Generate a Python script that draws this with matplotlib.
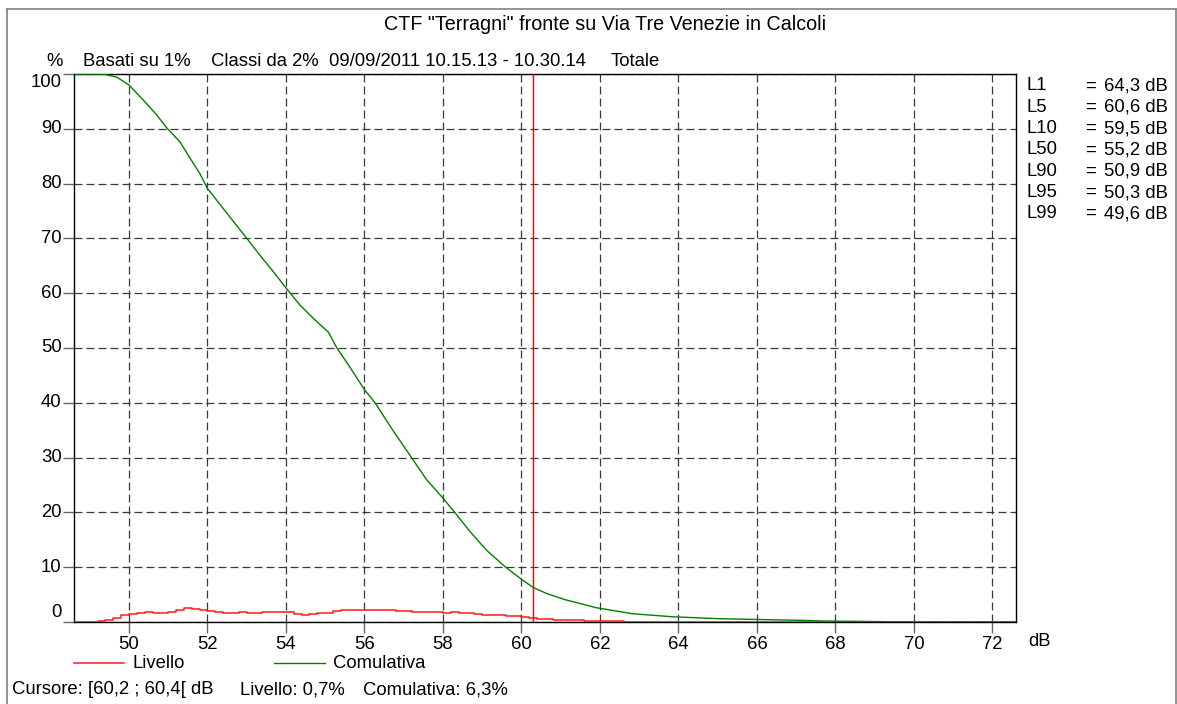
import matplotlib
matplotlib.use("Agg")
import matplotlib.pyplot as plt
from matplotlib.lines import Line2D
import numpy as np

plt.rcParams['font.family'] = ['Liberation Sans', 'DejaVu Sans']
FS = 13.3

# cumulative curve (dB, % of time level exceeded)
cum_db = [48.6, 49.35, 49.7, 50.0, 50.37, 50.71, 50.96, 51.3, 51.56, 51.81, 52.0, 52.32,
          52.66, 52.96, 53.34, 53.68, 54.02, 54.36, 54.7, 55.08, 55.29, 55.63, 56.0, 56.27,
          56.74, 57.2, 57.58, 58.0, 58.3, 58.69, 59.11, 59.58, 60.0, 60.3, 60.64, 61.1,
          61.91, 62.84, 63.86, 64.97, 65.8, 67.1, 67.7, 68.8, 70.0, 72.6]
cum_pct = [100, 100, 99.4, 98.0, 95.2, 92.5, 90.2, 87.6, 84.6, 81.8, 79.1, 76.2,
           73.1, 70.4, 66.9, 63.9, 60.8, 57.8, 55.4, 52.9, 50.1, 46.5, 42.4, 40.0,
           34.8, 30.0, 26.0, 22.6, 20.0, 16.5, 13.1, 10.1, 7.8, 6.3, 5.2, 4.1,
           2.6, 1.5, 0.95, 0.62, 0.49, 0.31, 0.18, 0.1, 0.0, 0.0]

# level distribution, 0.2 dB classes starting at 48.6 dB
class_start = 48.6
class_width = 0.2
livello = [0, 0, 0.03, 0.12, 0.3, 0.73, 1.22, 1.5, 1.7, 1.77,
           1.68, 1.65, 1.83, 2.14, 2.56, 2.38, 2.2, 2.0, 1.77, 1.65,
           1.65, 1.83, 1.7, 1.7, 1.77, 1.77, 1.9, 1.77, 1.4, 1.22,
           1.4, 1.6, 1.7, 2.07, 2.14, 2.14, 2.14, 2.14, 2.2, 2.2,
           2.2, 1.95, 1.95, 1.9, 1.9, 1.77, 1.77, 1.6, 1.77, 1.6,
           1.6, 1.47, 1.34, 1.22, 1.22, 1.15, 1.05, 0.92, 0.7, 0.62,
           0.5, 0.44, 0.4, 0.35, 0.3, 0.22, 0.18, 0.15, 0.12, 0.1,
           0.08, 0.06, 0.05, 0.05, 0.04, 0.04, 0.03]

cursor_db = 60.3
stats_names = ["L1", "L5", "L10", "L50", "L90", "L95", "L99"]
stats_vals = ["64,3", "60,6", "59,5", "55,2", "50,9", "50,3", "49,6"]

xticks = list(range(50, 73, 2))
yticks = list(range(0, 101, 10))

W, H = 1177, 704
fig = plt.figure(figsize=(W / 100, H / 100), dpi=100)
ax = fig.add_axes([74 / W, 1 - 622 / H, (1016 - 74) / W, (622 - 74) / H])

edges = class_start + class_width * np.arange(len(livello) + 1)
lv_x = np.concatenate([edges, [72.6]])
lv_y = np.concatenate([livello, [0, 0]])
ax.plot(lv_x, lv_y, drawstyle='steps-post', color='#ff1a1a', lw=1.1, zorder=3)
ax.plot(cum_db, cum_pct, color='#008000', lw=1.0, zorder=3)
ax.axvline(cursor_db, color='#ff0000', lw=1.0, zorder=4)

ax.set_xlim(48.6, 72.6)
ax.set_ylim(0, 100)
ax.set_xticks(xticks)
ax.set_yticks(yticks)
ax.set_yticklabels([])
ax.tick_params(axis='x', labelsize=FS, length=8, width=1, color='#666666', pad=2)
ax.tick_params(axis='y', length=8, width=1, color='#666666')
ax.grid(True, linestyle=(0, (6.4, 3.2)), color='#3a3a3a', lw=0.9)
for s in ax.spines.values():
    s.set_linewidth(1.0)
    s.set_color('black')

for v in yticks:
    dy = 0
    if v == 100:
        dy = -6
    elif v == 0:
        dy = 7
    ax.annotate(str(v), xy=(0, v), xycoords=('axes fraction', 'data'),
                xytext=(-9, dy), textcoords='offset points',
                ha='right', va='center', fontsize=FS)

ax.annotate("dB", xy=(1, 0), xycoords='axes fraction', xytext=(17, -14),
            textcoords='offset points', ha='center', va='center', fontsize=FS)

# header texts
fig.text(605 / W, 1 - 24 / H, 'CTF "Terragni" fronte su Via Tre Venezie in Calcoli',
         ha='center', va='center', fontsize=14.2)
fig.text(55 / W, 1 - 62 / H, "%", ha='center', va='center', fontsize=FS)
fig.text(83 / W, 1 - 62 / H, "Basati su 1%", ha='left', va='center', fontsize=FS)
fig.text(211 / W, 1 - 62 / H, "Classi da 2%", ha='left', va='center', fontsize=FS)
fig.text(329 / W, 1 - 62 / H, "09/09/2011 10.15.13 - 10.30.14", ha='left', va='center', fontsize=FS)
fig.text(611 / W, 1 - 62 / H, "Totale", ha='left', va='center', fontsize=FS)

# statistics on the right
for i, (n, v) in enumerate(zip(stats_names, stats_vals)):
    y = 1 - (86 + i * 21.3) / H
    fig.text(1027 / W, y, n, ha='left', va='center', fontsize=FS)
    fig.text(1091 / W, y, "=", ha='center', va='center', fontsize=FS)
    fig.text(1168 / W, y, v + " dB", ha='right', va='center', fontsize=FS)

# legend
fig.add_artist(Line2D([74 / W, 124 / W], [1 - 663 / H] * 2, color='#ff1a1a', lw=1.1))
fig.text(133 / W, 1 - 663 / H, "Livello", ha='left', va='center', fontsize=FS)
fig.add_artist(Line2D([274 / W, 325 / W], [1 - 663 / H] * 2, color='#008000', lw=1.0))
fig.text(333 / W, 1 - 663 / H, "Comulativa", ha='left', va='center', fontsize=FS)

# cursor read-out
fig.text(12 / W, 1 - 690 / H, "Cursore: [60,2 ; 60,4[ dB", ha='left', va='center', fontsize=FS)
fig.text(240 / W, 1 - 690 / H, "Livello: 0,7%", ha='left', va='center', fontsize=FS)
fig.text(363 / W, 1 - 690 / H, "Comulativa: 6,3%", ha='left', va='center', fontsize=FS)

# outer frame
fr = '#808080'
fig.add_artist(Line2D([7 / W, 7 / W], [-0.01, 1 - 9 / H], color=fr, lw=1.2))
fig.add_artist(Line2D([7 / W, 1176 / W], [1 - 9 / H] * 2, color=fr, lw=1.2))
fig.add_artist(Line2D([1176 / W, 1176 / W], [-0.01, 1 - 9 / H], color=fr, lw=1.2))

fig.savefig("out.png", dpi=100)
